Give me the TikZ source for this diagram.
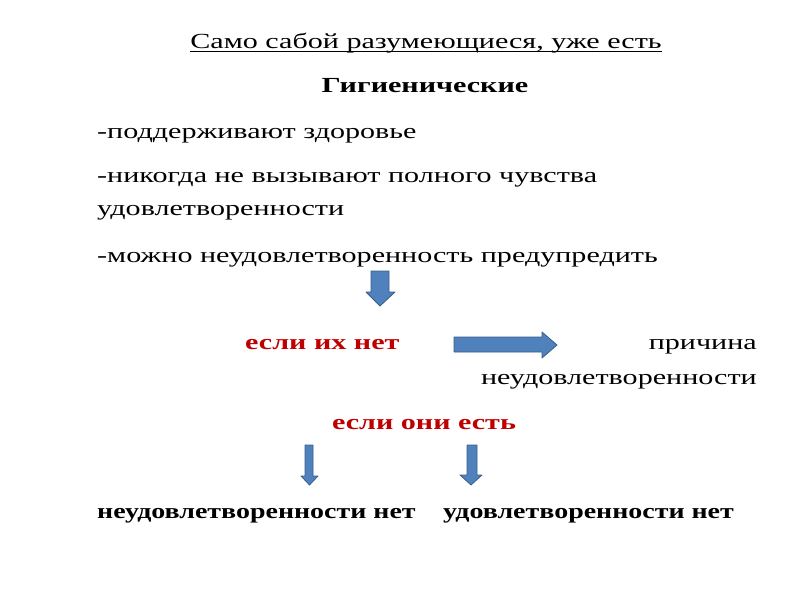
\documentclass[tikz,border=0pt]{standalone}
\usepackage{fontspec}
\setmainfont[FakeStretch=1.4]{Liberation Serif}
\newfontfamily\bottomfont[FakeStretch=1.3]{Liberation Serif}
\usetikzlibrary{shapes.arrows}
\definecolor{arrfill}{HTML}{4F81BD}
\definecolor{arrline}{HTML}{385D8A}
\definecolor{redtxt}{HTML}{C00000}
\tikzset{
  txt/.style={inner sep=0pt, anchor=base west, font=\fontsize{21.5}{26}\selectfont},
  btxt/.style={txt, font=\fontsize{21.5}{26}\selectfont\bfseries},
  rtxt/.style={btxt, text=redtxt},
  bottxt/.style={txt, font=\fontsize{21.5}{26}\bottomfont\bfseries},
  blockarrow/.style={fill=arrfill, draw=arrline, line width=0.8pt, line join=round}
}
\begin{document}
\begin{tikzpicture}[x=1pt,y=-1pt]
\useasboundingbox (0,0) rectangle (800,600);
\node[txt, anchor=base] (title) at (426,48) {Само сабой разумеющиеся, уже есть};
\draw[line width=0.8pt] ([yshift=-3.5pt]title.base west) -- ([yshift=-3.5pt]title.base east);
\node[btxt, anchor=base] (hyg) at (425,92) {Гигиенические};
\node[txt] (l1) at (97,138) {-поддерживают здоровье};
\node[txt] (l2) at (97,182) {-никогда не вызывают полного чувства};
\node[txt] (l3) at (97,215) {удовлетворенности};
\node[txt] (l4) at (97,262) {-можно неудовлетворенность предупредить};
\node[rtxt] (no) at (245,349) {если их нет};
\node[txt, anchor=base east] (cause1) at (757,349) {причина};
\node[txt, anchor=base east] (cause2) at (757,384) {неудовлетворенности};
\node[rtxt, anchor=base] (yes) at (424,429) {если они есть};
\node[bottxt] (r1) at (97,518) {неудовлетворенности нет};
\node[bottxt] (r2) at (443,518) {удовлетворенности нет};
% arrows
\draw[blockarrow] (371,271) -- (389,271) -- (389,292) -- (395,292) -- (380,306) -- (366,292) -- (371,292) -- cycle;
\draw[blockarrow] (454,337) -- (542,337) -- (542,332) -- (557,345) -- (542,358) -- (542,352) -- (454,352) -- cycle;
\draw[blockarrow] (305,445) -- (313,445) -- (313,476) -- (318,476) -- (309.5,485) -- (301,476) -- (305,476) -- cycle;
\draw[blockarrow] (467,445) -- (477,445) -- (477,475) -- (482,475) -- (471,485) -- (460,475) -- (467,475) -- cycle;
\end{tikzpicture}
\end{document}
